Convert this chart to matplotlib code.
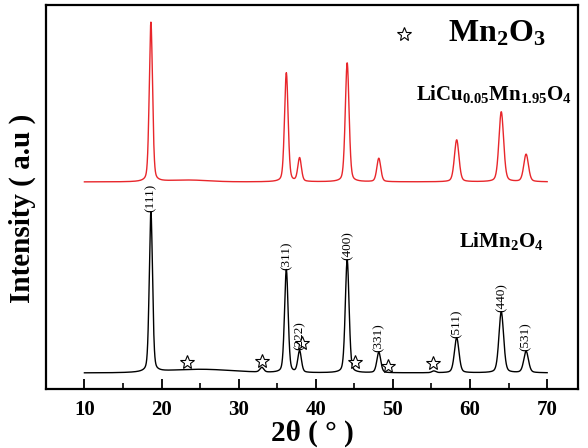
import matplotlib

matplotlib.use("Agg")
import matplotlib.pyplot as plt
import numpy as np

plt.rcParams["font.family"] = ["Liberation Serif", "DejaVu Serif"]
plt.rcParams["font.weight"] = "bold"
plt.rcParams["axes.labelweight"] = "bold"
plt.rcParams["mathtext.fontset"] = "custom"
plt.rcParams["mathtext.rm"] = "Liberation Serif:bold"
plt.rcParams["mathtext.it"] = "Liberation Serif:bold"
plt.rcParams["mathtext.bf"] = "Liberation Serif:bold"

# peak list (2theta, height above baseline, fwhm)
hkl_labels = ["(111)", "(311)", "(222)", "(400)", "(331)", "(511)", "(440)", "(531)"]
peak_pos = [18.62, 36.18, 37.90, 44.07, 48.17, 58.27, 64.05, 67.27]
peak_fwhm = [0.50, 0.55, 0.55, 0.58, 0.60, 0.70, 0.72, 0.72]
lmo_height = [3200, 2060, 430, 2260, 410, 700, 1220, 430]
lcmo_height = [3190, 2180, 470, 2380, 470, 840, 1400, 550]

# weak Mn2O3 reflections in the LiMn2O4 pattern
mn2o3_pos = [33.0, 55.3]
mn2o3_height = [95, 35]
mn2o3_fwhm = [0.6, 0.6]

# broad background humps
lmo_hump_pos = [25.0]
lmo_hump_height = [70]
lmo_hump_fwhm = [10.0]
lcmo_hump_pos = [23.5]
lcmo_hump_height = [35]
lcmo_hump_fwhm = [6.0]

baseline = 320
red_offset = 3820

# star markers for Mn2O3 (2theta, intensity)
star_x = [23.3, 33.0, 38.2, 45.1, 49.4, 55.2]
star_y = [540, 560, 920, 540, 460, 520]


def profile(two_theta, centers, heights, widths, eta=0.3):
    y = np.zeros_like(two_theta)
    for c, h, w in zip(centers, heights, widths):
        d = (two_theta - c) / (w / 2)
        lor = 1 / (1 + d**2)
        gau = np.exp(-np.log(2) * d**2)
        y += h * (eta * lor + (1 - eta) * gau)
    return y


tt = np.linspace(10, 70, 3001)
black = (
    baseline
    + profile(tt, peak_pos, lmo_height, peak_fwhm)
    + profile(tt, mn2o3_pos, mn2o3_height, mn2o3_fwhm)
    + profile(tt, lmo_hump_pos, lmo_hump_height, lmo_hump_fwhm, eta=0.0)
)
red = (
    baseline
    + red_offset
    + profile(tt, peak_pos, lcmo_height, peak_fwhm)
    + profile(tt, lcmo_hump_pos, lcmo_hump_height, lcmo_hump_fwhm, eta=0.0)
)

fig = plt.figure(figsize=(5.88, 4.48), dpi=100)
ax = fig.add_axes([0.078, 0.132, 0.905, 0.857])
ax.plot(tt, black, color="black", linewidth=1.0)
ax.plot(tt, red, color="#e8262b", linewidth=1.0)

for label, x in zip(hkl_labels, peak_pos):
    top = np.interp(x, tt, black)
    ax.text(x, top, label, rotation=90, ha="center", va="bottom",
            fontsize=9.5, fontweight="normal")

ax.plot(star_x, star_y, linestyle="none", marker="*", markersize=10,
        markerfacecolor="white", markeredgecolor="black", markeredgewidth=0.8)
ax.plot([51.4], [7100], linestyle="none", marker="*", markersize=10,
        markerfacecolor="white", markeredgecolor="black", markeredgewidth=0.8)

ax.text(57.2, 7100, r"Mn$_2$O$_3$", fontsize=23, va="center", ha="left")
ax.text(53.0, 5900, r"LiCu$_{0.05}$Mn$_{1.95}$O$_4$", fontsize=15,
        va="center", ha="left")
ax.text(58.6, 2950, r"LiMn$_2$O$_4$", fontsize=15, va="center", ha="left")

ax.set_xlim(5, 74)
ax.set_ylim(0, 7680)
ax.set_xticks(range(10, 71, 10))
ax.set_xticks(range(15, 70, 10), minor=True)
ax.set_yticks([])
ax.tick_params(axis="x", which="major", direction="in", length=7, width=1.3,
               labelsize=15, pad=8)
ax.tick_params(axis="x", which="minor", direction="in", length=4, width=1.2)
for spine in ax.spines.values():
    spine.set_linewidth(1.6)

ax.set_xlabel("2θ ( ° )", fontsize=21, labelpad=0)
ax.set_ylabel("Intensity ( a.u )", fontsize=21)
ax.yaxis.set_label_coords(-0.018, 0.47)

fig.savefig("out.png", dpi=100)
